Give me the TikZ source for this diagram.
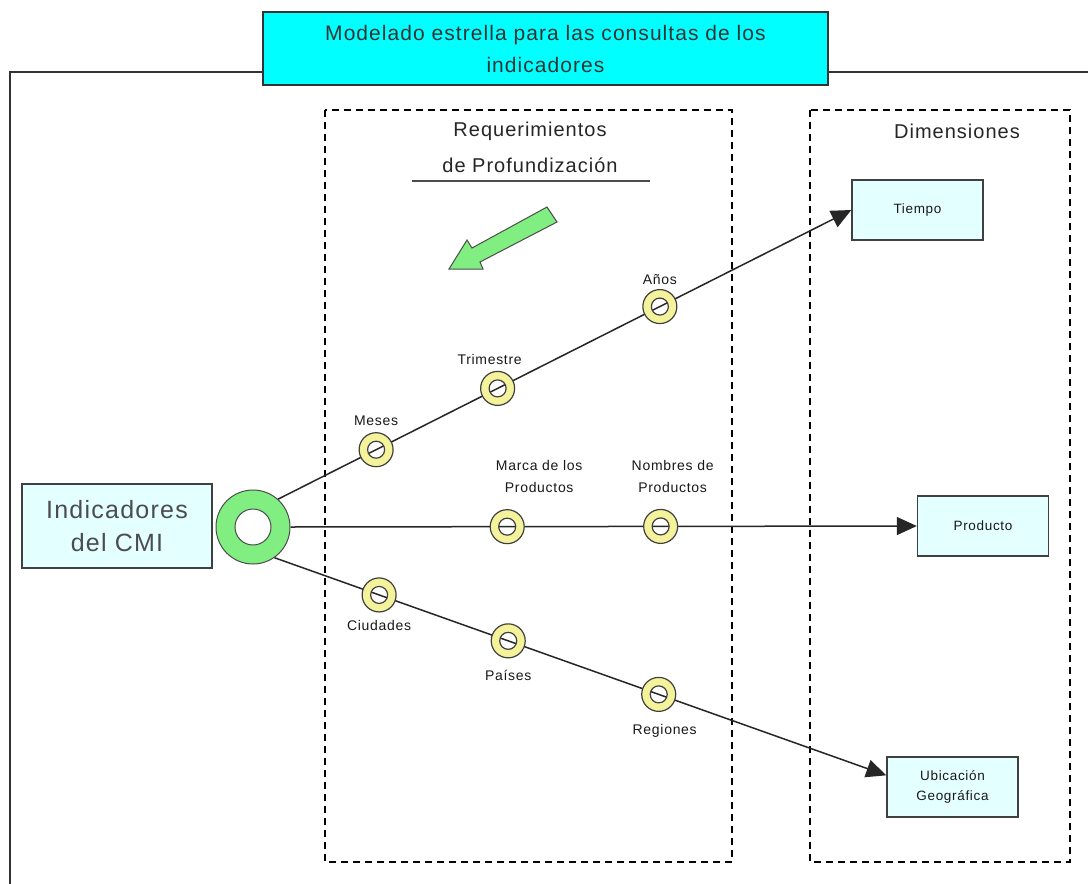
\documentclass[tikz,border=0pt]{standalone}
\usepackage{fontspec}
\setmainfont{Liberation Sans}[LetterSpace=5]
\usetikzlibrary{arrows.meta,calc}
\definecolor{titlecyan}{HTML}{00FFFF}
\definecolor{boxcyan}{HTML}{E4FFFF}
\definecolor{hubgreen}{HTML}{80EE80}
\definecolor{ringyellow}{HTML}{F4F29A}
\definecolor{inkgray}{HTML}{333333}

\begin{document}
\begin{tikzpicture}[x=1pt,y=-1pt,
  frame/.style={draw=inkgray, line width=2pt},
  titlebox/.style={draw=black!80, fill=titlecyan, line width=1.6pt,
    minimum width=565pt, minimum height=73pt, align=center,
    font=\fontsize{21}{32}\selectfont, text=black!80},
  dashbox/.style={draw=black, line width=2pt, dash pattern=on 7pt off 5pt},
  dimbox/.style={draw=black!75, fill=boxcyan, line width=1.4pt,
    minimum width=131pt, minimum height=60pt, align=center,
    font=\fontsize{13.5}{20}\selectfont, text=black!90},
  small/.style={font=\fontsize{14}{22}\selectfont, align=center,
    text=black!90, inner sep=0pt},
  header/.style={font=\fontsize{20}{24}\selectfont, text=black!85, inner sep=0pt},
  conn/.style={draw=black!85, line width=1.5pt, -{Triangle[length=20pt,width=18pt]}},
  ringnode/.style={circle, minimum size=34pt, inner sep=0pt, draw=black!75,
    line width=1.2pt, path picture={
      \fill[ringyellow, even odd rule] (path picture bounding box.center)
        circle[radius=17pt] circle[radius=8.5pt];
      \draw[black!75, line width=1.2pt] (path picture bounding box.center)
        circle[radius=8.5pt];}},
  hubnode/.style={circle, minimum size=74pt, inner sep=0pt, draw=black!70,
    line width=1pt, path picture={
      \fill[hubgreen, even odd rule] (path picture bounding box.center)
        circle[radius=37pt] circle[radius=18pt];
      \draw[black!70, line width=1pt] (path picture bounding box.center)
        circle[radius=18pt];}},
]
\useasboundingbox (0,0) rectangle (1088,884);
\fill[white] (0,0) rectangle (1088,884);

% outer frame (open to the right and bottom)
\draw[frame] (10,884) -- (10,72) -- (1088,72);

% title
\node[titlebox] (title) at (545.5,48.5)
  {Modelado estrella para las consultas de los\\indicadores};

% dashed zones
\draw[dashbox] (325,110) rectangle (732,862);
\draw[dashbox] (810,110) rectangle (1070,862);

% zone headings
\node[header] (req1) at (530,131) {Requerimientos};
\node[header] (req2) at (530,165) {de Profundización};
\draw[line width=1.2pt, black!70] (412,181) -- (650,181);
\node[header] (dim) at (957,131) {Dimensiones};

% drill-down arrow
\draw[fill=hubgreen, draw=black!70, line width=1pt, line join=miter]
  (547,207) -- (557,222) -- (480,262) -- (483,269) -- (449,269)
  -- (467,240) -- (472,248) -- cycle;

% fact and dimension boxes
\node[dimbox, minimum width=190pt, minimum height=84pt,
  font=\fontsize{25}{33}\selectfont, text=black!70] (cmi) at (117,526)
  {Indicadores\\del CMI};
\node[hubnode] (hub) at (253,527) {};
\node[dimbox] (tiempo) at (917.5,210) {Tiempo};
\node[dimbox] (producto) at (983,526) {Producto};
\node[dimbox] (ubic) at (952.5,787) {Ubicación\\Geográfica};

% hierarchies
\draw[conn] (hub.48) -- (tiempo.west)
  node[ringnode, pos=0.171] (meses) {}
  node[ringnode, pos=0.383] (trim) {}
  node[ringnode, pos=0.666] (anos) {};
\draw[conn] (hub.east) -- (producto.west)
  node[ringnode, pos=0.346] (marca) {}
  node[ringnode, pos=0.591] (nombres) {};
\draw[conn] (hub.-55) -- (ubic.170)
  node[ringnode, pos=0.171] (ciud) {}
  node[ringnode, pos=0.382] (pais) {}
  node[ringnode, pos=0.628] (reg) {};

% level labels
\node[small] (lmeses) at ($(meses)+(0,-29)$) {Meses};
\node[small] (ltrim) at ($(trim)+(-8,-29)$) {Trimestre};
\node[small] (lanos) at ($(anos)+(0,-27)$) {Años};
\node[small] (lmarca) at ($(marca)+(32,-50)$) {Marca de los\\Productos};
\node[small] (lnombres) at ($(nombres)+(12,-50)$) {Nombres de\\Productos};
\node[small] (lciud) at ($(ciud)+(0,31)$) {Ciudades};
\node[small] (lpais) at ($(pais)+(0,35)$) {Países};
\node[small] (lreg) at ($(reg)+(6,36)$) {Regiones};
\end{tikzpicture}
\end{document}
